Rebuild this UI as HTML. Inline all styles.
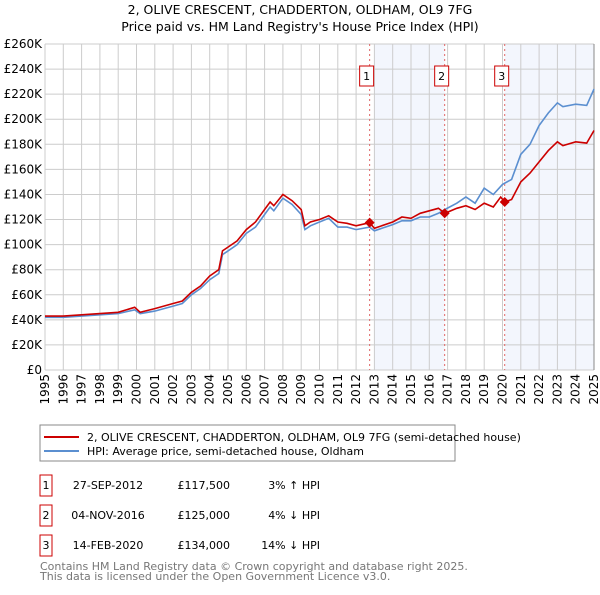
<!DOCTYPE html>
<html><head><meta charset="utf-8"><style>
body{margin:0;background:#fff;font-family:"Liberation Sans","DejaVu Sans",sans-serif;}
svg text{font-family:"DejaVu Sans","Liberation Sans",sans-serif;}
</style></head><body>
<svg id="c" width="600" height="590">
<text x="300" y="14" text-anchor="middle" font-size="12.5">2, OLIVE CRESCENT, CHADDERTON, OLDHAM, OL9 7FG</text>
<text x="300" y="31" text-anchor="middle" font-size="12.5">Price paid vs. HM Land Registry's House Price Index (HPI)</text>
<g id="plot"></g>
<rect x="40" y="425" width="415" height="36" fill="#fff" stroke="#888"/>
<line x1="44" y1="437" x2="79" y2="437" stroke="#cc0000" stroke-width="2"/>
<text x="87" y="441" font-size="11">2, OLIVE CRESCENT, CHADDERTON, OLDHAM, OL9 7FG (semi-detached house)</text>
<line x1="44" y1="451" x2="79" y2="451" stroke="#5b8fd0" stroke-width="2"/>
<text x="87" y="455" font-size="11">HPI: Average price, semi-detached house, Oldham</text>
<g id="tbl" font-size="11"></g>
<text x="40" y="570" font-size="11" fill="#777">Contains HM Land Registry data © Crown copyright and database right 2025.</text>
<text x="40" y="580" font-size="11" fill="#777">This data is licensed under the Open Government Licence v3.0.</text>
</svg>
<script>
const years=[1995,1996,1997,1998,1999,2000,2001,2002,2003,2004,2005,2006,2007,2008,2009,2010,2011,2012,2013,2014,2015,2016,2017,2018,2019,2020,2021,2022,2023,2024,2025];
const yTicks=[0,20000,40000,60000,80000,100000,120000,140000,160000,180000,200000,220000,240000,260000];
const yLabels=["£0","£20K","£40K","£60K","£80K","£100K","£120K","£140K","£160K","£180K","£200K","£220K","£240K","£260K"];
const redT=[1995,1996,1997,1998,1999,1999.9,2000.2,2001,2002,2002.5,2003,2003.5,2004,2004.5,2004.7,2005,2005.5,2006,2006.5,2007,2007.3,2007.5,2008,2008.5,2009,2009.2,2009.5,2010,2010.5,2011,2011.5,2012,2012.74,2013,2014,2014.5,2015,2015.5,2016,2016.5,2016.85,2017.5,2018,2018.5,2019,2019.5,2019.9,2020.12,2020.5,2021,2021.5,2022,2022.5,2023,2023.3,2024,2024.6,2025];
const redV=[43,43,44,45,46,50,46,49,53,55,62,67,75,80,95,98,103,112,118,128,134,131,140,135,128,115,118,120,123,118,117,115,117.5,113,118,122,121,125,127,129,125,129,131,128,133,130,138,134,136,150,157,166,175,182,179,182,181,191];
const hpiT=[1995,1996,1997,1998,1999,1999.9,2000.2,2001,2002,2002.5,2003,2003.5,2004,2004.5,2004.7,2005,2005.5,2006,2006.5,2007,2007.3,2007.5,2008,2008.5,2009,2009.2,2009.5,2010,2010.5,2011,2011.5,2012,2012.74,2013,2014,2014.5,2015,2015.5,2016,2016.5,2016.85,2017.5,2018,2018.5,2019,2019.5,2020,2020.5,2021,2021.5,2022,2022.5,2023,2023.3,2024,2024.6,2025];
const hpiV=[42,42,43,44,45,48,45,47,51,53,60,65,72,77,92,95,100,109,114,124,130,127,137,132,124,112,115,118,121,114,114,112,114,111,116,119,119,122,122,125,128,133,138,133,145,140,148,152,172,180,195,205,213,210,212,211,224];
const saleT=[2012.74,2016.84,2020.12];
const saleV=[117.5,125,134];
const saleLabels=["1","2","3"];
const saleDates=["27-SEP-2012","04-NOV-2016","14-FEB-2020"];
const salePrices=["£117,500","£125,000","£134,000"];
const saleHpi=["3% ↑ HPI","4% ↓ HPI","14% ↓ HPI"];
const X0=45,X1=594,Y0=370,Y1=44;
const xs=t=>X0+(t-1995)/30*(X1-X0);
const ys=v=>Y0-v/260000*(Y0-Y1);
const NS="http://www.w3.org/2000/svg";
const g=document.getElementById('plot');
function mk(tag,at,parent){const e=document.createElementNS(NS,tag);for(const k in at)e.setAttribute(k,at[k]);(parent||g).appendChild(e);return e;}
let r=mk('rect',{x:xs(2013),y:Y1,width:xs(saleT[1])-xs(2013),height:Y0-Y1,fill:'#f3f6fd'});


r=mk('rect',{x:xs(saleT[2]),y:Y1,width:X1-xs(saleT[2]),height:Y0-Y1,fill:'#f3f6fd'});


years.forEach(y=>{const l=mk('line',{x1:xs(y),x2:xs(y),y1:Y1,y2:Y0,stroke:'#ccc'});


const t=mk('text',{x:0,y:0,'font-size':12,'text-anchor':'end',transform:`translate(${xs(y)+4},${Y0+4}) rotate(-90)`});t.textContent=y;

});
yTicks.forEach((v,i)=>{const l=mk('line',{x1:X0,x2:X1,y1:ys(v),y2:ys(v),stroke:'#ccc'});


const t=mk('text',{x:X0-3,y:ys(v)+4,'font-size':12,'text-anchor':'end'});t.textContent=yLabels[i];

});
const ax=mk('line',{x1:X1,x2:X1,y1:Y1,y2:Y0,stroke:'#888'});


saleT.forEach((t,i)=>{const l=mk('line',{x1:xs(t),x2:xs(t),y1:Y1,y2:Y0,stroke:'#e06666','stroke-dasharray':'2,3'});


const b=mk('rect',{x:xs(t)-10,y:66,width:14,height:20,fill:'#fff',stroke:'#cc0000'});


const tx=mk('text',{x:xs(t)-3,y:80,'font-size':11,'text-anchor':'middle'});tx.textContent=saleLabels[i];

});
function path(T,V,col,name){const p=mk('path',{d:T.map((t,i)=>(i?'L':'M')+xs(t).toFixed(1)+','+ys(V[i]*1000).toFixed(1)).join(''),fill:'none',stroke:col,'stroke-width':1.6});

}
path(hpiT,hpiV,'#5b8fd0','hpi-line');
path(redT,redV,'#cc0000','property-line');
saleT.forEach((t,i)=>{const cx=xs(t),cy=ys(saleV[i]*1000);const d=mk('path',{d:`M${cx},${cy-5}L${cx+5},${cy}L${cx},${cy+5}L${cx-5},${cy}Z`,fill:'#cc0000'});

});
const tb=document.getElementById('tbl');
saleT.forEach((t,i)=>{const y=485+i*30;
const b=mk('rect',{x:40,y:y-10,width:12,height:21,fill:'#fff',stroke:'#cc0000'},tb);


const cols=[[46,'middle',saleLabels[i]],[108,'middle',saleDates[i]],[230,'end',salePrices[i]],[320,'end',saleHpi[i]]];
cols.forEach(c=>{const e=mk('text',{x:c[0],y:y+4,'text-anchor':c[1]},tb);e.textContent=c[2];

});});
</script>
</body></html>
